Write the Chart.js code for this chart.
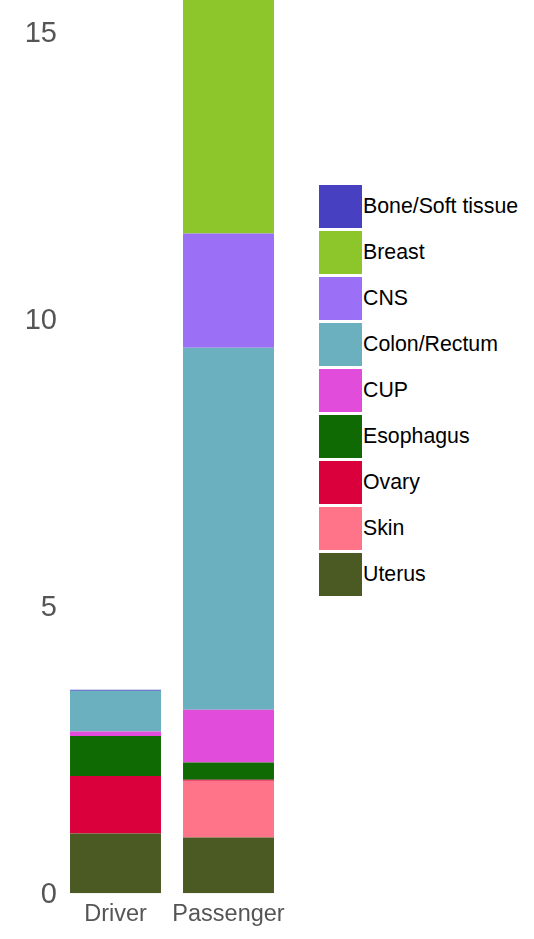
<!DOCTYPE html>
<html>
<head>
<meta charset="utf-8">
<script src="https://cdn.jsdelivr.net/npm/chart.js@4/dist/chart.umd.min.js"></script>
<style>
    body { margin: 0; background: #fff; }
    #wrap { position: relative; width: 534px; height: 939px; }
    #chart { position: absolute; left: 0; top: 0; }
    #legend { position: absolute; left: 319px; top: 185px; font-family: "Liberation Sans", Arial, sans-serif; font-size: 21.3px; color: #000; }
    .item { display: flex; align-items: center; height: 43px; margin-bottom: 3px; }
    .box { width: 43px; height: 43px; margin-right: 1px; }
</style>
</head>
<body>
<div id="wrap">
    <canvas id="chart" width="300" height="939"></canvas>
    <div id="legend"></div>
</div>
<script>
// Datos (de abajo hacia arriba en la pila)
const categories = ["Driver", "Passenger"];
const tumorTypes = ["Uterus", "Skin", "Ovary", "Esophagus", "CUP", "Colon/Rectum", "CNS", "Breast", "Bone/Soft tissue"];
const colors = ["#4b5a23", "#ff7489", "#d9003c", "#0f6a04", "#e14cdb", "#6ab0bf", "#9c6ff7", "#8cc62a", "#4740c0"];
const driverValues = [1.04, 0, 1.0, 0.7, 0.075, 0.71, 0, 0, 0.02];
const passengerValues = [0.97, 0.99, 0.017, 0.3, 0.92, 6.3, 1.99, 4.5, 0];
const yTicks = [0, 5, 10, 15];
const yMax = 15.55;

// Construir datasets
const datasets = tumorTypes.map((name, i) => ({
    label: name,
    data: [driverValues[i], passengerValues[i]],
    backgroundColor: colors[i],
    borderWidth: 0,
}));

const ctx = document.getElementById("chart").getContext("2d");
const chart = new Chart(ctx, {
    type: "bar",
    data: { labels: categories, datasets: datasets },
    options: {
        responsive: false,
        animation: false,
        categoryPercentage: 0.805,
        barPercentage: 1,
        layout: { padding: { left: 0, right: 15, top: 0, bottom: 0 } },
        plugins: {
            legend: { display: false },
            tooltip: { enabled: false },
        },
        scales: {
            x: {
                stacked: true,
                grid: { display: false, drawTicks: false },
                border: { display: false },
                ticks: {
                    padding: 7,
                    maxRotation: 0,
                    minRotation: 0,
                    autoSkip: false,
                    color: "#555",
                    font: { family: "'Liberation Sans', Arial, sans-serif", size: 23.5 },
                },
                afterFit: (scale) => {
                    scale.height = 45.7;
                    scale.paddingLeft = 0;
                    scale.paddingRight = 0;
                },
            },
            y: {
                stacked: true,
                min: 0,
                max: yMax,
                grid: { display: false, drawTicks: false },
                border: { display: false },
                afterBuildTicks: (scale) => { scale.ticks = yTicks.map((v) => ({ value: v })); },
                ticks: {
                    padding: 2,
                    labelOffset: 2,
                    color: "#555",
                    font: { family: "'Liberation Sans', Arial, sans-serif", size: 29 },
                },
                afterFit: (scale) => {
                    scale.width = 59;
                    scale.paddingTop = 0;
                    scale.paddingBottom = 0;
                },
            },
        },
    },
});

// Leyenda en HTML (orden de arriba hacia abajo)
const legendEl = document.getElementById("legend");
for (let i = tumorTypes.length - 1; i >= 0; i--) {
    const item = document.createElement("div");
    item.className = "item";
    item.innerHTML = `<div class="box" style="background:${colors[i]}"></div><span>${tumorTypes[i]}</span>`;
    legendEl.appendChild(item);
}
</script>
</body>
</html>
